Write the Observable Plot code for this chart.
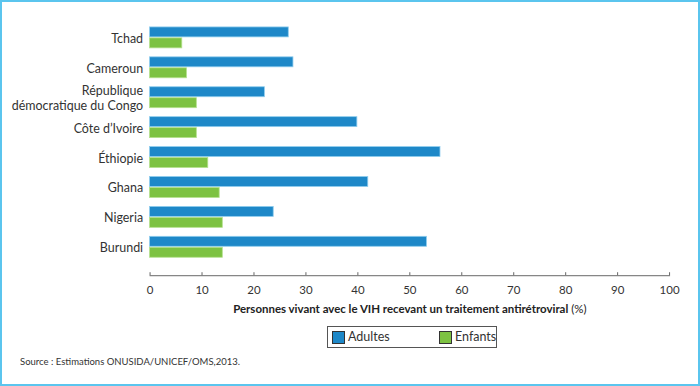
<!DOCTYPE html>
<html><head><meta charset="utf-8">
<script src="https://cdn.jsdelivr.net/npm/d3@7"></script>
<script src="https://cdn.jsdelivr.net/npm/@observablehq/plot@0.6"></script>
<style>
html,body{margin:0;padding:0;background:#fff;}
#wrap{position:relative;width:700px;height:386px;box-sizing:border-box;border:2px solid #5bc5ee;font-family:Lato,"Open Sans",sans-serif;overflow:hidden;}
#chart{position:absolute;left:-2px;top:-2px;}
#legend{position:absolute;left:325px;top:324px;width:168px;height:20px;border:1px solid #555;font-size:12.5px;color:#333;}
.sw{position:absolute;top:4px;width:11px;height:11px;border:1px solid #333;}
.lt{position:absolute;top:2px;}
#source{position:absolute;left:18px;top:354px;font-size:9.5px;color:#333;}
</style></head>
<body><div id="wrap"><div id="chart"></div>
<div id="legend"><div class="sw" style="left:4px;background:#1e88c8"></div><span class="lt" style="left:20px">Adultes</span><div class="sw" style="left:111px;background:#7dc242"></div><span class="lt" style="left:127px">Enfants</span></div>
<div id="source">Source : Estimations ONUSIDA/UNICEF/OMS,2013.</div>
</div>
<script>
const countries = ["Tchad","Cameroun","République\ndémocratique du Congo","Côte d’Ivoire","Éthiopie","Ghana","Nigeria","Burundi"];
const adultes = [26.7, 27.6, 22.1, 39.9, 55.9, 42.0, 23.8, 53.3];
const enfants = [6.2, 7.1, 9.0, 9.0, 11.2, 13.4, 14.0, 14.0];
const xTicks = [0,10,20,30,40,50,60,70,80,90,100];
const axisTitle = "Personnes vivant avec le VIH recevant un traitement antirétroviral";
const axisUnit = " (%)";

const dA = countries.map((c,i)=>({country:c, value:adultes[i]}));
const dE = countries.map((c,i)=>({country:c, value:enfants[i]}));

const chart = Plot.plot({
  width: 700, height: 320,
  marginLeft: 150, marginRight: 29, marginTop: 9, marginBottom: 44,
  style: {fontFamily: "Lato, 'Open Sans', sans-serif", fontSize: "12px", color: "#333", background: "transparent"},
  x: {domain: [0,100]},
  y: {domain: countries, paddingInner: 0.284, paddingOuter: 0.49},
  marks: [
    Plot.barX(dA, {x: "value", y: "country", fill: "#1e88c8", stroke: "#8fcdee", strokeWidth: 0.8, insetBottom: 11}),
    Plot.barX(dE, {x: "value", y: "country", fill: "#7dc242", stroke: "#b5e08e", strokeWidth: 0.8, insetTop: 11}),
    Plot.axisY({tickSize: 0, tickPadding: 7, label: null, fontSize: 12.5, lineHeight: 1.25}),
    Plot.frame({anchor: "bottom", stroke: "#666"}),
    Plot.axisX({ticks: xTicks, tickSize: -3, tickPadding: 13, stroke: "#666", fontSize: 11.5, label: null}),
    Plot.text([axisTitle], {frameAnchor: "bottom", lineAnchor: "middle", dy: 34, text: d => d, fontWeight: "bold", fontSize: 11.5, fill: "#222"})
  ]
});
document.getElementById("chart").appendChild(chart);
// add regular-weight unit after bold title
const t = [...chart.querySelectorAll("text")].find(e => e.textContent === axisTitle);
if (t) {
  const tsp = document.createElementNS("http://www.w3.org/2000/svg","tspan");
  tsp.setAttribute("font-weight","normal");
  tsp.textContent = axisUnit;
  t.appendChild(tsp);
}
</script></body></html>
